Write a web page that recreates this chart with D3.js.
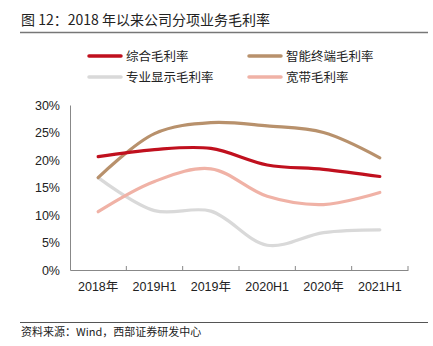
<!DOCTYPE html>
<html><head><meta charset="utf-8">
<script src="https://cdn.jsdelivr.net/npm/d3@7"></script>
<style>body{margin:0;background:#fff;}svg{display:block;}</style>
</head><body><svg id="c" width="433" height="346"></svg>
<script>
const categories = ["2018年","2019H1","2019年","2020H1","2020年","2021H1"];
const seriesNames = ["综合毛利率","智能终端毛利率","专业显示毛利率","宽带毛利率"];
const zongHe   = [20.6, 21.9, 22.1, 19.1, 18.3, 17.0];
const zhiNeng  = [16.8, 24.8, 26.8, 26.2, 25.0, 20.4];
const zhuanYe  = [16.8, 10.8, 10.7, 4.5, 6.8, 7.3];
const kuanDai  = [10.6, 16.1, 18.4, 13.4, 11.9, 14.1];
const yTicks = [0,5,10,15,20,25,30];
const colors = ["#c0101e","#b8916c","#d9d9d9","#f0b2a6"];

const svg = d3.select("#c");
const sans = "'Liberation Sans', Arial, 'Noto Sans CJK SC', sans-serif";
const cjk = "'Noto Sans CJK SC', sans-serif";

// title
svg.append("text").attr("x",21).attr("y",25).attr("font-family",cjk).attr("font-size",14).attr("fill","#222")
  .text("图 12：2018 年以来公司分项业务毛利率");
svg.append("line").attr("x1",20).attr("x2",428).attr("y1",32.5).attr("y2",32.5).attr("stroke","#777").attr("stroke-width",1.5);

const x = d3.scaleBand().domain(categories).range([70,408]);
const y = d3.scaleLinear().domain([0,30]).range([270,105]);

// y axis
const ya = svg.append("g").attr("transform","translate(70,0)")
  .call(d3.axisLeft(y).tickValues(yTicks).tickSize(0).tickPadding(10).tickFormat(d=>d+"%"));
ya.select(".domain").attr("stroke","#888");
ya.selectAll("text").attr("font-family",sans).attr("font-size",12.5).attr("fill","#222");

// x axis
const xa = svg.append("g").attr("transform","translate(0,270)")
  .call(d3.axisBottom(x).tickSize(0).tickPadding(12));
xa.select(".domain").attr("stroke","#888");
xa.selectAll("text").attr("font-family",sans).attr("font-size",12.5).attr("fill","#222");
const bounds = categories.map(c=>x(c)).concat([x.range()[1]]);
svg.append("g").selectAll("line").data(bounds.slice(1)).join("line")
  .attr("x1",d=>d).attr("x2",d=>d).attr("y1",270).attr("y2",266).attr("stroke","#888");

// lines
const all = [zongHe, zhiNeng, zhuanYe, kuanDai];
const line = d3.line().x((d,i)=>x(categories[i])+x.bandwidth()/2).y(d=>y(d)).curve(d3.curveCatmullRom.alpha(0.5));
const order = [2,3,1,0];
order.forEach(k=>{
  svg.append("path").attr("d",line(all[k])).attr("fill","none").attr("stroke",colors[k]).attr("stroke-width",3.2).attr("stroke-linecap","round");
});

// legend
const legPos = [[89,56],[249,56],[89,77],[249,77]];
seriesNames.forEach((n,i)=>{
  const [lx,ly] = legPos[i];
  svg.append("line").attr("x1",lx).attr("x2",lx+32).attr("y1",ly).attr("y2",ly).attr("stroke",colors[i]).attr("stroke-width",3.5).attr("stroke-linecap","round");
  svg.append("text").attr("x",lx+37).attr("y",ly+4.5).attr("font-family",cjk).attr("font-size",12.5).attr("fill","#222").text(n);
});

// footer
svg.append("line").attr("x1",20).attr("x2",428).attr("y1",322.5).attr("y2",322.5).attr("stroke","#555").attr("stroke-width",1);
svg.append("text").attr("x",21).attr("y",336).attr("font-family",cjk).attr("font-size",11).attr("fill","#222")
  .text("资料来源：Wind，西部证券研发中心");
</script></body></html>
